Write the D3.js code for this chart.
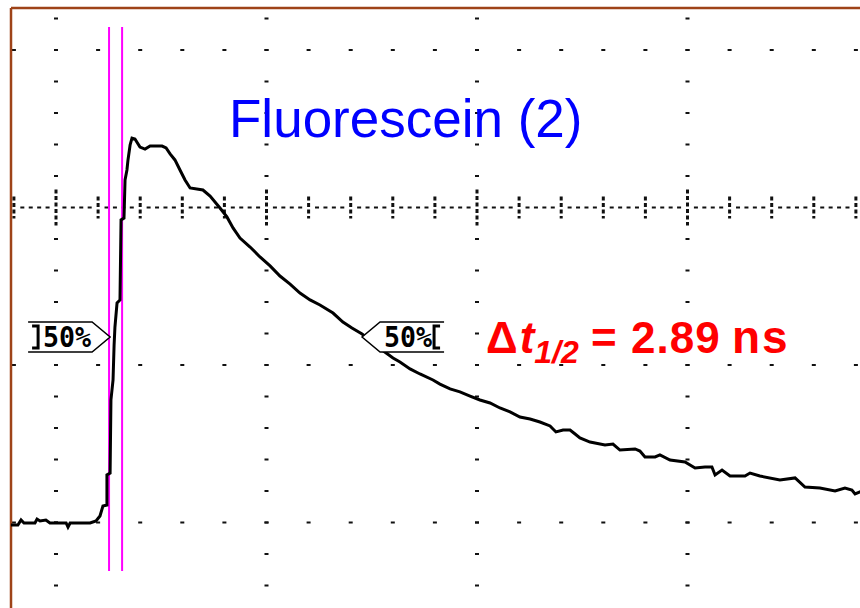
<!DOCTYPE html>
<html>
<head>
<meta charset="utf-8">
<script src="https://cdnjs.cloudflare.com/ajax/libs/d3/7.8.5/d3.min.js"></script>
<style>
    body { margin: 0; background: #fff; }
    svg { display: block; }
</style>
</head>
<body>
<div id="scope"></div>
<script>
// trace, in screen divisions (x from the first major column, y from the centre axis)
var traceX = [-0.214, -0.181, -0.166, -0.152, -0.100, -0.090, -0.076, -0.048, -0.029, 0.048, 0.057, 0.067, 0.162, 0.190,
    0.209, 0.223, 0.242, 0.242, 0.257, 0.261, 0.271, 0.276, 0.280, 0.290, 0.304, 0.309, 0.323, 0.328, 0.337, 0.342,
    0.352, 0.361, 0.375, 0.399, 0.423, 0.447, 0.504, 0.523, 0.542, 0.565, 0.589, 0.613, 0.637, 0.698, 0.732, 0.779,
    0.812, 0.841, 0.874, 0.922, 0.969, 1.017, 1.064, 1.112, 1.159, 1.207, 1.254, 1.316, 1.363, 1.406, 1.454, 1.501,
    1.549, 1.601, 1.634, 1.682, 1.729, 1.791, 1.824, 1.872, 1.919, 1.967, 2.014, 2.062, 2.109, 2.157, 2.204, 2.252,
    2.299, 2.347, 2.375, 2.409, 2.442, 2.466, 2.489, 2.537, 2.608, 2.646, 2.679, 2.751, 2.774, 2.798, 2.846, 2.869,
    2.917, 2.988, 3.036, 3.083, 3.116, 3.131, 3.164, 3.202, 3.273, 3.297, 3.344, 3.439, 3.511, 3.558, 3.629, 3.701,
    3.748, 3.781, 3.796, 3.829];
var traceY = [-2.016, -2.016, -1.984, -2.003, -2.003, -1.978, -1.990, -1.984, -2.003, -2.003, -2.029, -2.003, -2.003, -1.990,
    -1.959, -1.895, -1.889, -1.698, -1.686, -1.222, -1.095, -0.873, -0.759, -0.606, -0.587, -0.079, -0.067, 0.175, 0.238, 0.302,
    0.397, 0.441, 0.435, 0.384, 0.371, 0.390, 0.390, 0.378, 0.340, 0.302, 0.238, 0.175, 0.124, 0.111, 0.073, -0.003,
    -0.060, -0.130, -0.194, -0.251, -0.314, -0.371, -0.435, -0.486, -0.543, -0.587, -0.619, -0.670, -0.727, -0.765, -0.803, -0.854,
    -0.905, -0.956, -0.981, -1.025, -1.057, -1.095, -1.121, -1.152, -1.171, -1.197, -1.222, -1.241, -1.273, -1.298, -1.330, -1.343,
    -1.362, -1.387, -1.425, -1.413, -1.413, -1.438, -1.463, -1.489, -1.508, -1.502, -1.540, -1.533, -1.546, -1.584, -1.584, -1.571,
    -1.603, -1.616, -1.654, -1.648, -1.648, -1.698, -1.667, -1.705, -1.705, -1.686, -1.705, -1.730, -1.717, -1.775, -1.781, -1.800,
    -1.781, -1.794, -1.819, -1.800];

// cursors and 50% markers
var cursorX = [0.252, 0.314];
var cursorSpan = [-2.308, 1.146];
var halfLevel = -0.822;
var halfMarkX = [0.257, 1.454];
var markLabel = "50%";

// graticule
var minorX = d3.range(-1, 20).map(function (k) { return k * 0.2; });
var minorY = d3.range(-12, 7).map(function (k) { return k * 0.2; });
var majorX = [0, 1, 2, 3];
var majorY = [1, -1, -2];

var title = "Fluorescein (2)";
var resultValue = "2.89";
var resultUnit = "ns";

var W = 860, H = 608;
d3.select("#scope").html('<svg width="' + W + '" height="' + H + '"></svg>');
var svg = d3.select("#scope>svg");

var x = d3.scaleLinear().domain([0, 1]).range([56, 266.5]);
var y = d3.scaleLinear().domain([0, 1]).range([207.5, 50]);

svg.append("rect").attr("width", W).attr("height", H).attr("fill", "#fff");

var grid = svg.append("g").attr("fill", "#111");

// dots along the major columns
majorX.forEach(function (c) {
    grid.selectAll(null)
            .data(minorY.filter(function (v) { return Math.abs(v) > 0.01; }))
            .enter().append("rect")
            .attr("x", x(c) - 2)
            .attr("y", function (d) { return y(d) - 1; })
            .attr("width", 4)
            .attr("height", 2);
});

// dots along the major rows
majorY.forEach(function (r) {
    grid.selectAll(null)
            .data(minorX)
            .enter().append("rect")
            .attr("x", function (d) { return x(d) - 2; })
            .attr("y", y(r) - 1)
            .attr("width", 4)
            .attr("height", 2);
});

// centre axis: fine dashes + ticks
grid.selectAll(null)
        .data(d3.range(-5, 96).map(function (k) { return k * 0.04; }).filter(function (v) {
            return Math.abs(v / 0.2 - Math.round(v / 0.2)) > 0.01;
        }))
        .enter().append("rect")
        .attr("x", function (d) { return x(d) - 2; })
        .attr("y", y(0) - 1)
        .attr("width", 4)
        .attr("height", 2);

grid.selectAll(null)
        .data(minorX)
        .enter().append("line")
        .attr("x1", function (d) { return x(d); })
        .attr("x2", function (d) { return x(d); })
        .attr("y1", function (d) {
            return Math.abs(d - Math.round(d)) < 0.01 ? y(0) - 18 : y(0) - 11;
        })
        .attr("y2", function (d) {
            return Math.abs(d - Math.round(d)) < 0.01 ? y(0) + 18 : y(0) + 11;
        })
        .attr("stroke", "#111")
        .attr("stroke-width", 3)
        .attr("stroke-dasharray", "4,2.5");

// slide frame
svg.append("line").attr("x1", 11).attr("x2", 11).attr("y1", 8).attr("y2", H)
        .attr("stroke", "#9e4318").attr("stroke-width", 2.5);
svg.append("line").attr("x1", 11).attr("x2", W).attr("y1", 8).attr("y2", 8)
        .attr("stroke", "#9e4318").attr("stroke-width", 2.5);

// cursors
svg.selectAll(".cursor")
        .data(cursorX)
        .enter().append("line")
        .attr("class", "cursor")
        .attr("x1", function (d) { return x(d); })
        .attr("x2", function (d) { return x(d); })
        .attr("y1", y(cursorSpan[1]))
        .attr("y2", y(cursorSpan[0]))
        .attr("stroke", "#ff00ff")
        .attr("stroke-width", 2);

// trace
var pts = traceX.map(function (v, i) { return [v, traceY[i]]; });
var line = d3.line()
        .x(function (d) { return x(d[0]); })
        .y(function (d) { return y(d[1]); });

svg.append("path")
        .datum(pts)
        .attr("d", line)
        .attr("fill", "none")
        .attr("stroke", "#000")
        .attr("stroke-width", 3)
        .attr("stroke-linejoin", "miter");

// 50% flags
function flag(tipX, dir) {
    var ty = y(halfLevel);
    var tip = x(tipX);
    var g = svg.append("g");
    var near = tip + dir * 18, far = tip + dir * 82;
    g.append("path")
            .attr("d", "M" + far + "," + (ty - 15) + "L" + near + "," + (ty - 15) + "L" + tip + "," + ty +
                    "L" + near + "," + (ty + 15) + "L" + far + "," + (ty + 15))
            .attr("fill", "#fff")
            .attr("stroke", "#000")
            .attr("stroke-width", 1.5);
    // bracket at the far end
    var bx = far - dir * 10;
    g.append("path")
            .attr("d", "M" + (bx + dir * 6) + "," + (ty - 11) + "L" + bx + "," + (ty - 11) + "L" + bx + "," + (ty + 11) +
                    "L" + (bx + dir * 6) + "," + (ty + 11))
            .attr("fill", "none")
            .attr("stroke", "#000")
            .attr("stroke-width", 3);
    g.append("text")
            .attr("x", dir > 0 ? near + 4 : bx + 5)
            .attr("y", ty + 10)
            .attr("font-family", "DejaVu Sans Mono")
            .attr("font-weight", "bold")
            .attr("font-size", 28)
            .attr("textLength", 48)
            .attr("lengthAdjust", "spacingAndGlyphs")
            .text(markLabel);
}
flag(halfMarkX[0], -1);
flag(halfMarkX[1], 1);

// labels
svg.append("text")
        .attr("x", 229)
        .attr("y", 137)
        .attr("font-family", "Liberation Sans, Arial, sans-serif")
        .attr("font-size", 53)
        .attr("fill", "#0000ff")
        .text(title);

var lab = svg.append("text")
        .attr("x", 486)
        .attr("y", 353)
        .attr("font-family", "Liberation Sans, Arial, sans-serif")
        .attr("font-weight", "bold")
        .attr("font-size", 44)
        .attr("fill", "#ff0000");
lab.append("tspan").text("\u0394");
lab.append("tspan").attr("font-style", "italic").attr("dx", 2).text("t");
lab.append("tspan").attr("font-style", "italic").attr("font-size", 32).attr("dy", 10).text("1/2");
lab.append("tspan").attr("dy", -10).attr("x", 591).text("=");
lab.append("tspan").attr("x", 631).attr("letter-spacing", 1).text(resultValue);
lab.append("tspan").attr("x", 732).attr("font-size", 46).attr("letter-spacing", 2).text(resultUnit);
</script>
</body>
</html>
